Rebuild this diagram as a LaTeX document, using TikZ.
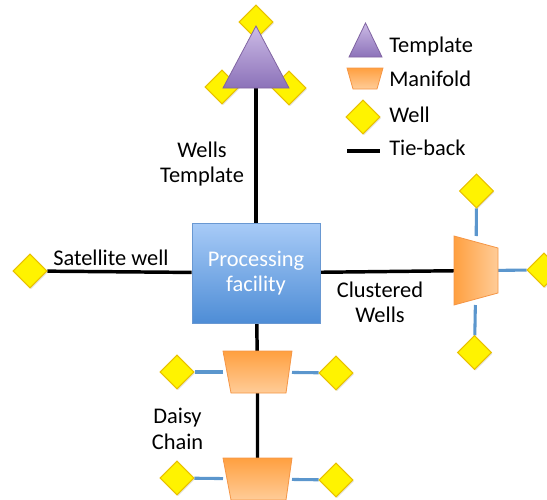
\documentclass[tikz,border=0pt]{standalone}
\usepackage{fontspec}
\setmainfont{Carlito}
\usetikzlibrary{shapes.geometric,backgrounds,shadows}
\definecolor{wellfill}{RGB}{255,243,0}
\definecolor{welledge}{RGB}{232,192,0}
\definecolor{triTop}{RGB}{204,187,230}
\definecolor{triBot}{RGB}{140,114,185}
\definecolor{triEdge}{RGB}{128,100,162}
\definecolor{manDark}{RGB}{255,160,64}
\definecolor{manLight}{RGB}{255,204,152}
\definecolor{manEdge}{RGB}{245,150,70}
\definecolor{boxTop}{RGB}{168,203,247}
\definecolor{boxBot}{RGB}{78,141,214}
\definecolor{boxEdge}{RGB}{105,152,210}
\definecolor{linkblue}{RGB}{91,150,205}
\begin{document}
\begin{tikzpicture}[x=0.75pt,y=-0.75pt,
  font=\fontsize{16.8}{19}\selectfont,
  well/.style={diamond,draw=welledge,fill=wellfill,line width=0.8pt,inner sep=0pt,
    minimum width=25.5pt,minimum height=25.5pt,
    drop shadow={opacity=0.22,shadow xshift=0.8pt,shadow yshift=-0.9pt}},
  holder/.style={inner sep=0pt,outer sep=0pt},
  tieback/.style={line width=2.6pt,black},
  flowlink/.style={line width=2.3pt,draw=linkblue},
  tri/.style={top color=triTop,bottom color=triBot,draw=triEdge,line width=0.6pt},
  manv/.style={top color=manDark,bottom color=manLight,draw=manEdge,line width=0.6pt},
  manh/.style={left color=manDark,right color=manLight,draw=manEdge,line width=0.6pt},
  lbl/.style={text=black,inner sep=0pt}
]
\useasboundingbox (0,0) rectangle (547,500);
\clip (0,0) rectangle (547,500);

% ---- template (top)
\node[well] (tw1) at (256,22) {};
\node[well] (tw2) at (222,87) {};
\node[well] (tw3) at (289,88) {};
\shade[tri] (256,26) -- (289,88) -- (223,88) -- cycle;
\node[holder,minimum width=48.75pt,minimum height=46.5pt] (tmpl) at (256,57) {};

% ---- processing facility
\node[draw=boxEdge,line width=0.6pt,top color=boxTop,bottom color=boxBot,
  minimum width=96pt,minimum height=75pt,text=white,align=center,
  drop shadow={opacity=0.25,shadow xshift=0.8pt,shadow yshift=-1pt}]
  (proc) at (256,273) {Processing\\facility};

% ---- satellite well
\node[well] (sat) at (30,271) {};
\node[lbl,anchor=base west] (satlbl) at (53,265) {Satellite well};

% ---- clustered wells (right)
\node[well] (rw1) at (476.5,191) {};
\node[well] (rw2) at (474.5,352.5) {};
\node[well] (rw3) at (544,270) {};
\shade[manh] (454,236) -- (498,248) -- (498,293) -- (454,305) -- cycle;
\node[holder,minimum width=33pt,minimum height=51.75pt] (rman) at (476,270.5) {};
\node[lbl,align=center] (cluslbl) at (380,302) {Clustered\\Wells};

% ---- daisy chain (bottom)
\node[well] (m1l) at (177,372) {};
\node[well] (m1r) at (336,373) {};
\node[well] (m2l) at (177,478) {};
\node[well] (m2r) at (336,480) {};
\shade[manv] (223,351) -- (292,351) -- (286,393) -- (231,393) -- cycle;
\node[holder,minimum width=51.75pt,minimum height=31.5pt] (m1) at (257.5,372) {};
\shade[manv] (223,458) -- (292,458) -- (286,500) -- (231,500) -- cycle;
\node[holder,minimum width=51.75pt,minimum height=31.5pt] (m2) at (257.5,479) {};
\node[lbl,align=center] (daisylbl) at (177.5,429) {Daisy\\Chain};

% ---- wells template label
\node[lbl,align=center] (wtlbl) at (202,164) {Wells\\Template};

% ---- legend
\shade[tri] (365.5,23) -- (382,57) -- (349,57) -- cycle;
\node[holder,minimum width=24.75pt,minimum height=25.5pt] (legtri) at (365.5,40) {};
\shade[manv] (347,68) -- (383,68) -- (377,89) -- (353,89) -- cycle;
\node[holder,minimum width=27pt,minimum height=15.75pt] (legman) at (365,78.5) {};
\node[well] (legwell) at (363,117) {};
\coordinate (lt1) at (347,151);
\coordinate (lt2) at (380,151);
\draw[tieback] (lt1) -- (lt2);
\node[lbl,anchor=base west] (lgt1) at (389,52) {Template};
\node[lbl,anchor=base west] (lgt2) at (389,86) {Manifold};
\node[lbl,anchor=base west] (lgt3) at (389,122) {Well};
\node[lbl,anchor=base west] (lgt4) at (389,155) {Tie-back};

% ---- connectors behind everything
\begin{scope}[on background layer]
  \draw[tieback] (proc) -- (tmpl);
  \draw[tieback] (proc) -- (sat);
  \draw[tieback] (proc) -- (rman);
  \draw[tieback] (proc) -- (m1) -- (m2);
  \draw[flowlink] (rman) -- (rw1);
  \draw[flowlink] (rman) -- (rw2);
  \draw[flowlink] (rman) -- (rw3);
  \draw[flowlink] (m1) -- (m1l);
  \draw[flowlink] (m1) -- (m1r);
  \draw[flowlink] (m2) -- (m2l);
  \draw[flowlink] (m2) -- (m2r);
\end{scope}
\end{tikzpicture}
\end{document}
